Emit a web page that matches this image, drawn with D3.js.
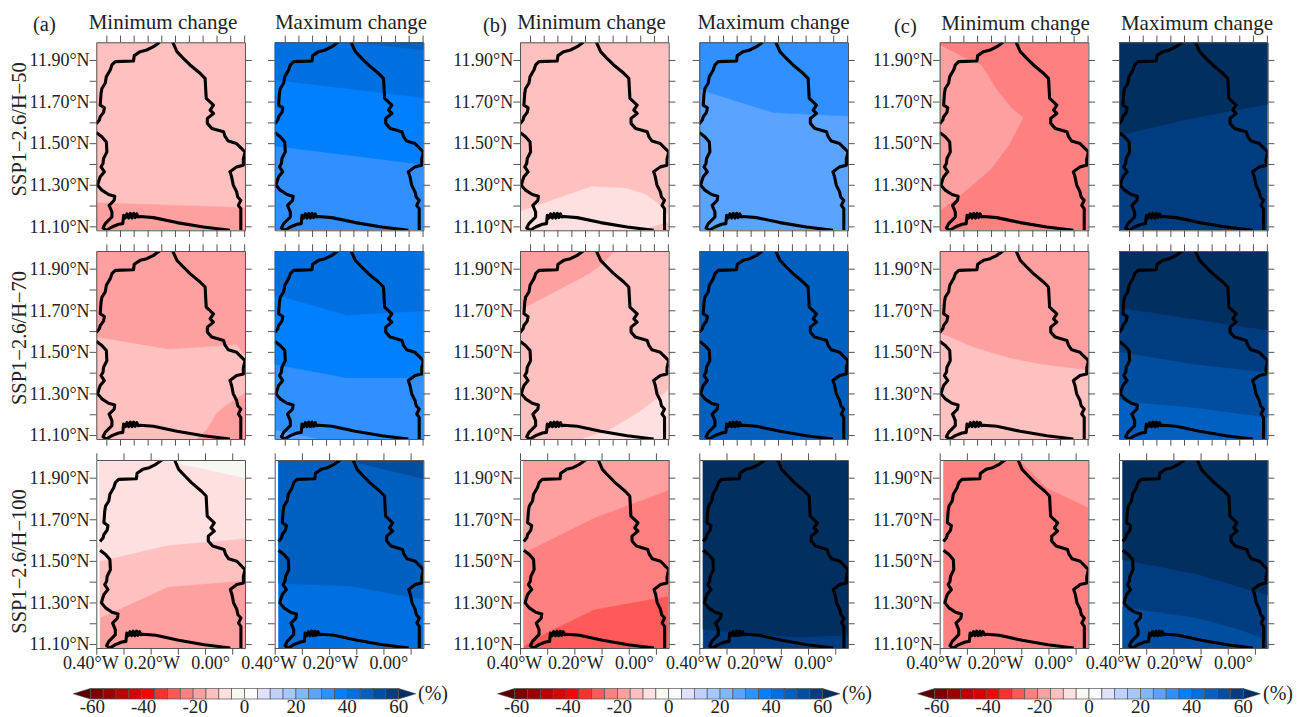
<!DOCTYPE html>
<html>
<head>
<meta charset="utf-8">
<script src="https://d3js.org/d3.v7.min.js"></script>
<style>
  html, body { margin: 0; padding: 0; background: #fff; }
  svg { display: block; }
  text { font-family: "Liberation Serif", serif; fill: #222; }
  .axis path, .axis line { stroke: #555; stroke-width: 1; }
</style>
</head>
<body>
<div id="container"></div>
<script>
// extent of the data grid, degrees
const W = -0.386, E = 0.147, S = 11.081, N = 11.985;

// colour bar
const levels = d3.range(-60, 61, 5);
const levelColors = ["#5a0000", "#7a0000", "#990000", "#b80000", "#d80000", "#ff0000", "#ff3030", "#ff5a5a",
  "#ff8080", "#ffa0a0", "#ffc0c0", "#ffe0e0", "#f8f8f2", "#fafaff", "#e0e0ff", "#c0d0ff", "#a6c8ff", "#80b8ff",
  "#5aa4ff", "#3090ff", "#0080ff", "#0070e0", "#0060c0", "#004ea0", "#003c80", "#002f60"];
const barLabels = [-60, -40, -20, 0, 20, 40, 60];

const rowNames = ["SSP1\u22122.6/H\u221250", "SSP1\u22122.6/H\u221270", "SSP1\u22122.6/H\u2212100"];
const groupNames = ["(a)", "(b)", "(c)"];
const latTicks = [11.1, 11.2, 11.3, 11.4, 11.5, 11.6, 11.7, 11.8, 11.9];
const lonTicksFine = [-0.35, -0.301, -0.252, -0.202, -0.153, -0.104, -0.054, -0.005, 0.045, 0.094, 0.144];
const lonTicksCoarse = [-0.4, -0.3, -0.2, -0.1, 0, 0.1];

// country border, lon/lat
const borderWest = [[-0.159, 11.985], [-0.181, 11.964], [-0.205, 11.948], [-0.229, 11.940], [-0.250, 11.921],
  [-0.2525, 11.895], [-0.318, 11.892], [-0.330, 11.876], [-0.336, 11.852], [-0.350, 11.820], [-0.354, 11.788],
  [-0.366, 11.763], [-0.369, 11.739], [-0.372, 11.683], [-0.357, 11.670], [-0.360, 11.648], [-0.372, 11.627],
  [-0.375, 11.611], [-0.386, 11.593]];
const borderSouth = [[-0.386, 11.551], [-0.366, 11.531], [-0.350, 11.506], [-0.348, 11.458], [-0.360, 11.426],
  [-0.362, 11.402], [-0.369, 11.386], [-0.357, 11.362], [-0.372, 11.338], [-0.378, 11.314], [-0.381, 11.298],
  [-0.366, 11.274], [-0.342, 11.253], [-0.320, 11.245], [-0.322, 11.225], [-0.340, 11.201], [-0.330, 11.169],
  [-0.330, 11.145], [-0.354, 11.113], [-0.362, 11.092], [-0.350, 11.081], [-0.330, 11.097], [-0.306, 11.110],
  [-0.291, 11.113], [-0.288, 11.153], [-0.282, 11.140], [-0.276, 11.160], [-0.270, 11.140], [-0.264, 11.162],
  [-0.258, 11.140], [-0.252, 11.162], [-0.247, 11.142], [-0.241, 11.160], [-0.236, 11.145],
  [-0.229, 11.147], [-0.181, 11.142], [-0.097, 11.118], [-0.002, 11.097], [0.093, 11.081]];
const borderEast = [[0.132, 11.081], [0.132, 11.185], [0.123, 11.201], [0.132, 11.225], [0.121, 11.241],
  [0.117, 11.266], [0.105, 11.298], [0.099, 11.338], [0.093, 11.362], [0.117, 11.386], [0.141, 11.394],
  [0.141, 11.423], [0.147, 11.458], [0.117, 11.498], [0.087, 11.510], [0.076, 11.531], [0.070, 11.555],
  [0.028, 11.571], [0.012, 11.595], [0.012, 11.619], [0.034, 11.643], [0.022, 11.659], [0.034, 11.683],
  [0.008, 11.715], [0.004, 11.812], [-0.014, 11.836], [-0.050, 11.876], [-0.074, 11.908], [-0.097, 11.940],
  [-0.112, 11.985]];

// contour bands: [change %, ring of lon/lat], painted in order
const full = [[W, N], [E, N], [E, S], [W, S]];

const aMin50 = [[-12, full], [-17, [[W, 11.214], [E, 11.190], [E, S], [W, S]]]];
const aMax50 = [[32, full], [37, [[W, 11.486], [E, 11.398], [E, N], [W, N]]],
  [42, [[W, 11.804], [E, 11.719], [E, N], [W, N]]], [47, [[-0.104, N], [E, 11.948], [E, N]]]];
const aMin70 = [[-12, full],
  [-17, [[W, 11.573], [-0.128, 11.514], [0.057, 11.529], [0.117, 11.536], [E, 11.485], [E, N], [W, N]]],
  [-17, [[-0.026, S], [0.010, 11.124], [0.045, 11.204], [0.081, 11.244], [E, 11.301], [E, S]]]];
const aMax70 = [[32, full], [27, [[W, 11.124], [-0.235, S], [W, S]]],
  [37, [[W, 11.440], [-0.128, 11.376], [0.093, 11.376], [E, 11.408], [E, N], [W, N]]],
  [42, [[W, 11.773], [-0.355, 11.765], [-0.128, 11.677], [E, 11.696], [E, N], [W, N]]]];
const aMin100 = [[-17, full], [-12, [[W, 11.227], [-0.135, 11.376], [E, 11.406], [E, N], [W, N]]],
  [-7, [[W, 11.499], [-0.135, 11.576], [E, 11.608], [E, N], [W, N]]],
  [-2, [[-0.154, N], [E, 11.900], [E, N]]]];
const aMax100 = [[42, full], [47, [[W, 11.392], [-0.123, 11.379], [E, 11.315], [E, N], [W, N]]],
  [52, [[-0.135, N], [E, 11.895], [E, N]]]];

const bMin50 = [[-12, full],
  [-7, [[W, 11.171], [-0.130, 11.291], [-0.005, 11.283], [0.067, 11.251], [0.121, 11.195], [E, 11.150],
    [E, 11.123], [0.043, S], [W, S]]]];
const bMax50 = [[27, full], [32, [[W, 11.759], [-0.121, 11.647], [E, 11.631], [E, N], [W, N]]]];
const bMin70 = [[-12, full], [-17, [[W, 11.701], [-0.136, 11.878], [-0.088, 11.926], [-0.050, N], [W, N]]],
  [-7, [[-0.160, S], [-0.065, 11.124], [0.043, 11.212], [E, 11.317], [E, S]]]];
const bMax70 = [[47, full]];
const bMin100 = [[-27, full], [-22, [[W, 11.091], [-0.303, 11.155], [-0.125, 11.267], [E, 11.331], [E, N], [W, N]]],
  [-17, [[W, 11.539], [-0.125, 11.708], [E, 11.841], [E, N], [W, N]]]];
const bMax100 = [[57, full], [62, [[W, 11.171], [-0.287, 11.158], [-0.054, 11.135], [E, 11.143], [E, N], [W, N]]]];

const cMin50 = [[-22, full],
  [-17, [[W, 11.971], [-0.287, 11.903], [-0.239, 11.879], [-0.179, 11.751], [-0.125, 11.663], [-0.087, 11.623],
    [-0.137, 11.494], [-0.203, 11.374], [-0.323, 11.238], [W, 11.174]]]];
const cMax50 = [[57, full], [62, [[W, 11.539], [-0.129, 11.620], [E, 11.687], [E, N], [W, N]]]];
const cMin70 = [[-12, full],
  [-17, [[W, 11.594], [-0.263, 11.522], [-0.131, 11.470], [-0.024, 11.442], [E, 11.413], [E, N], [W, N]]]];
const cMax70 = [[47, full], [52, [[W, 11.270], [-0.320, 11.257], [-0.117, 11.233], [E, 11.185], [E, N], [W, N]]],
  [57, [[W, 11.501], [-0.117, 11.442], [E, 11.402], [E, N], [W, N]]],
  [62, [[W, 11.714], [-0.117, 11.658], [0.038, 11.626], [E, 11.605], [E, N], [W, N]]]];
const cMin100 = [[-22, full], [-17, [[-0.108, N], [-0.004, 11.849], [0.070, 11.805], [E, 11.757], [E, N]]]];
const cMax100 = [[57, full], [52, [[W, 11.276], [-0.112, 11.224], [0.047, 11.167], [0.133, 11.123], [0.133, S], [W, S]]],
  [62, [[W, 11.507], [-0.112, 11.437], [0.084, 11.360], [E, 11.336], [E, N], [W, N]]]];

// rows then columns
const panelBands = [
  [aMin50, aMax50, bMin50, bMax50, cMin50, cMax50],
  [aMin70, aMax70, bMin70, bMax70, cMin70, cMax70],
  [aMin100, aMax100, bMin100, bMax100, cMin100, cMax100]
];

//-----------------------------layout------------------------------//
const colX = [96.3, 274.7, 520, 699.3, 939.7, 1119];
const rowY = [42.3, 251, 460];
const panelW = 148.7, panelH = 188;
const tickLen = 6.7;
const titleX = [163, 351, 591.5, 773.5, 1015.5, 1197];
const groupPos = [[33, 31], [483, 32], [894, 33]];
const barX = [[90.3, 398.7], [514.7, 822.7], [934.7, 1243.3]];
const barY = 688.5, barH = 10.5;
const pctX = [418, 842, 1263];

const svg = d3.select("#container").append("svg")
  .attr("width", 1304)
  .attr("height", 717);

const color = d3.scaleThreshold().domain(levels).range(levelColors);

//-----------------------------panels------------------------------//
panelBands.forEach(function (row, r) {
  row.forEach(function (bands, c) {
    // bottom row keeps a white strip on the left, its axis starts at 0.40W
    const xScale = d3.scaleLinear().domain([r === 2 ? -0.4 : W, E]).range([0, panelW]);
    const yScale = d3.scaleLinear().domain([S, N]).range([panelH, 0]);
    const line = d3.line().x(d => xScale(d[0])).y(d => yScale(d[1]));

    const g = svg.append("g").attr("transform", "translate(" + colX[c] + "," + rowY[r] + ")");
    const clipId = "clip-" + r + "-" + c;
    g.append("clipPath").attr("id", clipId)
      .append("rect").attr("width", panelW).attr("height", panelH);

    const plot = g.append("g").attr("clip-path", "url(#" + clipId + ")");
    plot.selectAll("path.band")
      .data(bands)
      .enter().append("path")
      .attr("class", "band")
      .attr("d", d => line(d[1]) + "Z")
      .attr("fill", d => color(d[0]))
      .attr("stroke", d => color(d[0]))
      .attr("stroke-width", 0.5);

    plot.selectAll("path.border")
      .data([borderWest, borderSouth, borderEast])
      .enter().append("path")
      .attr("class", "border")
      .attr("d", line)
      .attr("fill", "none")
      .attr("stroke", "#000")
      .attr("stroke-width", 3.1)
      .attr("stroke-linejoin", "round");

    // axes
    const lonTicks = r === 2 ? lonTicksCoarse : lonTicksFine;
    const lonText = function (d) {
      if (r !== 2) return "";
      if (d === -0.4) return "0.40\u00b0W";
      if (d === -0.2) return "0.20\u00b0W";
      if (d === 0) return "0.00\u00b0";
      return "";
    };
    const latText = function (d) {
      if (c % 2 === 1 || Math.round(d * 10) % 2 === 0) return "";
      return d.toFixed(2) + "\u00b0N";
    };

    g.append("g").attr("class", "axis")
      .call(d3.axisTop(xScale).tickValues(lonTicks).tickSize(tickLen).tickSizeOuter(0).tickFormat(""));
    const bottom = g.append("g").attr("class", "axis")
      .attr("transform", "translate(0," + panelH + ")")
      .call(d3.axisBottom(xScale).tickValues(lonTicks).tickSize(tickLen).tickSizeOuter(0)
        .tickPadding(2).tickFormat(lonText));
    bottom.selectAll("text")
      .attr("font-size", 18)
      .attr("font-family", "Liberation Serif")
      .attr("dx", d => d === -0.4 ? -6 : (d === 0 ? 5 : 1));

    g.append("g").attr("class", "axis")
      .call(d3.axisLeft(yScale).tickValues(latTicks).tickSize(tickLen).tickSizeOuter(0)
        .tickPadding(0).tickFormat(latText))
      .selectAll("text")
      .attr("font-size", 18)
      .attr("font-family", "Liberation Serif");
    g.append("g").attr("class", "axis")
      .attr("transform", "translate(" + panelW + ",0)")
      .call(d3.axisRight(yScale).tickValues(latTicks).tickSize(tickLen).tickSizeOuter(0).tickFormat(""));
  });
});

//-----------------------------titles------------------------------//
titleX.forEach(function (x, i) {
  svg.append("text")
    .attr("x", x)
    .attr("y", i < 4 ? 28.5 : 29.5)
    .attr("text-anchor", "middle")
    .attr("font-size", 21)
    .text(i % 2 === 0 ? "Minimum change" : "Maximum change");
});

groupNames.forEach(function (name, i) {
  svg.append("text")
    .attr("x", groupPos[i][0])
    .attr("y", groupPos[i][1])
    .attr("font-size", 20.5)
    .text(name);
});

rowNames.forEach(function (name, r) {
  svg.append("text")
    .attr("transform", "translate(26," + (rowY[r] + (r === 2 ? 101.5 : 87)) + ") rotate(-90)")
    .attr("text-anchor", "middle")
    .attr("font-size", 20.5)
    .text(name);
});

//-----------------------------colour bars------------------------------//
barX.forEach(function (range, i) {
  const barScale = d3.scaleLinear().domain([-60, 60]).range(range);
  const bar = svg.append("g");
  const boxes = d3.pairs(levels);

  bar.append("path")
    .attr("d", "M" + barScale(-66.7) + "," + (barY + barH / 2) + "L" + barScale(-60) + "," + barY +
      "V" + (barY + barH) + "Z")
    .attr("fill", levelColors[0])
    .attr("stroke", "#444")
    .attr("stroke-width", 0.5);
  bar.append("path")
    .attr("d", "M" + barScale(66.7) + "," + (barY + barH / 2) + "L" + barScale(60) + "," + barY +
      "V" + (barY + barH) + "Z")
    .attr("fill", levelColors[levelColors.length - 1])
    .attr("stroke", "#444")
    .attr("stroke-width", 0.5);

  bar.selectAll("rect")
    .data(boxes)
    .enter().append("rect")
    .attr("x", d => barScale(d[0]))
    .attr("y", barY)
    .attr("width", d => barScale(d[1]) - barScale(d[0]))
    .attr("height", barH)
    .attr("fill", d => color(d[0] + 1))
    .attr("stroke", "#555")
    .attr("stroke-width", 0.7);

  // kept just inside the page edge, the labels sit very low
  bar.selectAll("text")
    .data(barLabels)
    .enter().append("text")
    .attr("x", d => barScale(d) + (d < 0 ? 2 : 0))
    .attr("y", 712.7)
    .attr("text-anchor", "middle")
    .attr("font-size", 19)
    .text(d => d);

  svg.append("text")
    .attr("x", pctX[i])
    .attr("y", 700)
    .attr("font-size", 20)
    .text("(%)");
});
</script>
</body>
</html>
